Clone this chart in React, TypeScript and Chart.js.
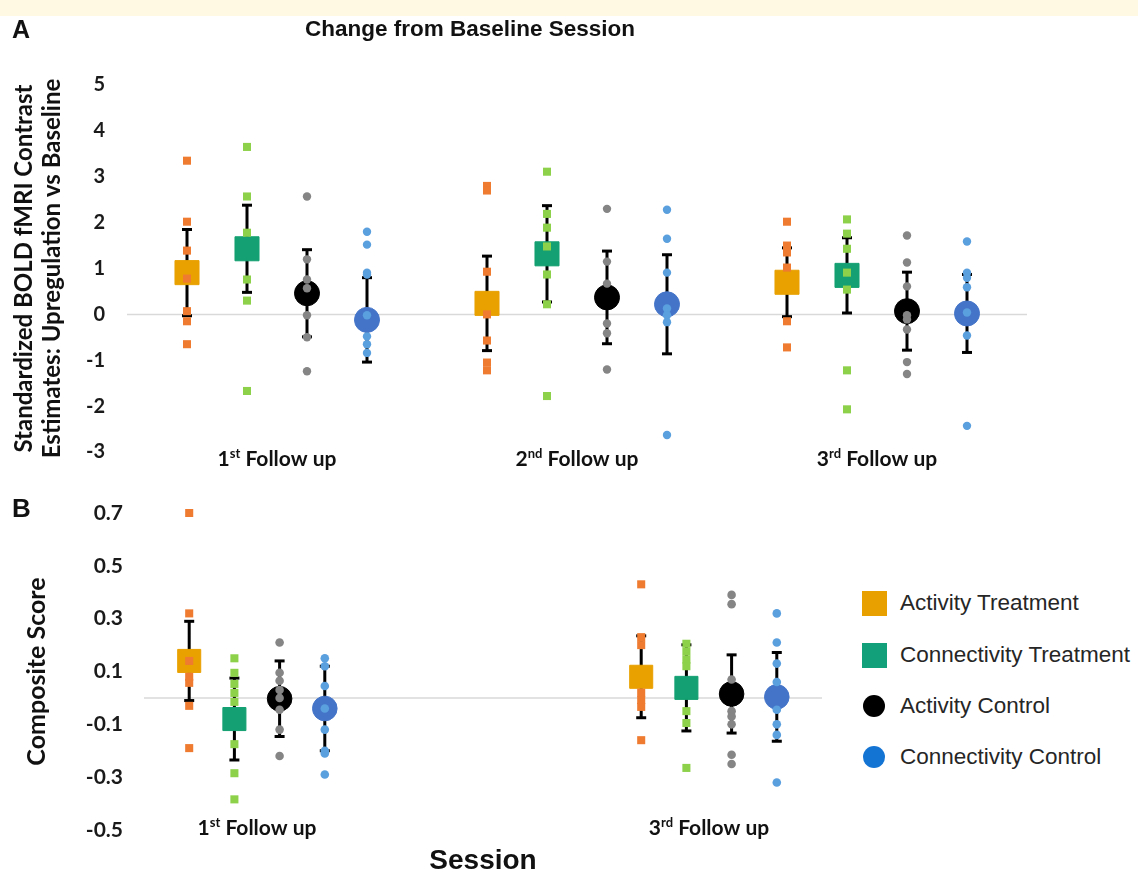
import React, { useEffect, useRef } from "react";
import { Chart, registerables } from "chart.js";

Chart.register(...registerables);

// ---------------- Shared ----------------
const seriesNames = [
  "Activity Treatment",
  "Connectivity Treatment",
  "Activity Control",
  "Connectivity Control",
];

// ---------------- Panel A data ----------------
const sessionsA = ["1st Follow up", "2nd Follow up", "3rd Follow up"];
const yTicksA = [-3, -2, -1, 0, 1, 2, 3, 4, 5];
const yTitleA = ["Standardized BOLD fMRI Contrast", "Estimates: Upregulation vs Baseline"];
const titleA = "Change from Baseline Session";

const actTreatA_mean = [0.91, 0.24, 0.7];
const actTreatA_err = [0.94, 1.03, 0.75];
const actTreatA_points = [
  [3.35, 2.02, 1.39, 0.78, 0.07, -0.15, -0.65],
  [2.8, 2.7, 0.93, 0.0, -0.57, -1.05, -1.22],
  [2.02, 1.5, 1.35, 1.02, -0.15, -0.72],
];

const conTreatA_mean = [1.43, 1.32, 0.85];
const conTreatA_err = [0.95, 1.05, 0.82];
const conTreatA_points = [
  [3.65, 2.57, 1.78, 0.76, 0.3, -1.67],
  [3.11, 2.19, 1.89, 1.48, 0.87, 0.22, -1.78],
  [2.07, 1.76, 1.43, 0.91, 0.54, -1.22, -2.07],
];

const actCtrlA_mean = [0.46, 0.37, 0.07];
const actCtrlA_err = [0.95, 1.01, 0.85];
const actCtrlA_points = [
  [2.57, 1.2, 0.76, 0.57, -0.02, -0.5, -1.24],
  [2.3, 1.15, 0.67, -0.2, -0.41, -1.2],
  [1.72, 1.13, 0.61, -0.02, -0.11, -0.33, -1.04, -1.3],
];

const conCtrlA_mean = [-0.12, 0.22, 0.02];
const conCtrlA_err = [0.92, 1.08, 0.85];
const conCtrlA_points = [
  [1.8, 1.52, 0.91, 0.87, -0.02, -0.48, -0.65, -0.84],
  [2.28, 1.65, 0.91, 0.13, -0.02, -0.17, -2.63],
  [1.59, 0.91, 0.8, 0.59, 0.04, -0.46, -2.43],
];

// ---------------- Panel B data ----------------
const sessionsB = ["1st Follow up", "3rd Follow up"];
const yTicksB = [-0.5, -0.3, -0.1, 0.1, 0.3, 0.5, 0.7];
const yTitleB = "Composite Score";
const xTitleB = "Session";

const actTreatB_mean = [0.14, 0.08];
const actTreatB_err = [0.15, 0.155];
const actTreatB_points = [
  [0.7, 0.32, 0.14, 0.08, 0.057, -0.03, -0.19],
  [0.43, 0.23, 0.2, 0.02, -0.008, -0.034, -0.16],
];

const conTreatB_mean = [-0.08, 0.038];
const conTreatB_err = [0.155, 0.163];
const conTreatB_points = [
  [0.15, 0.095, 0.053, 0.019, -0.015, -0.175, -0.285, -0.384],
  [0.205, 0.175, 0.145, 0.12, -0.05, -0.095, -0.265],
];

const actCtrlB_mean = [-0.003, 0.015];
const actCtrlB_err = [0.143, 0.148];
const actCtrlB_points = [
  [0.21, 0.095, 0.065, 0.03, 0.0, -0.045, -0.12, -0.22],
  [0.39, 0.355, 0.07, -0.05, -0.07, -0.1, -0.215, -0.25],
];

const conCtrlB_mean = [-0.04, 0.004];
const conCtrlB_err = [0.16, 0.168];
const conCtrlB_points = [
  [0.15, 0.12, 0.045, -0.04, -0.12, -0.2, -0.21, -0.29],
  [0.32, 0.21, 0.13, 0.06, -0.045, -0.1, -0.14, -0.32],
];

// ---------------- Styles ----------------
const seriesStyles = [
  { mean: "#E9A100", pt: "#EE7B30", legend: "#E8A000", shape: "rect" },
  { mean: "#14A072", pt: "#8DD14A", legend: "#12A07A", shape: "rect" },
  { mean: "#000000", pt: "#858585", legend: "#000000", shape: "circle" },
  { mean: "#4474C8", pt: "#5A9FDE", legend: "#1474D4", shape: "circle" },
];

type Series = { mean: number[]; err: number[]; points: number[][] };

const seriesA: Series[] = [
  { mean: actTreatA_mean, err: actTreatA_err, points: actTreatA_points },
  { mean: conTreatA_mean, err: conTreatA_err, points: conTreatA_points },
  { mean: actCtrlA_mean, err: actCtrlA_err, points: actCtrlA_points },
  { mean: conCtrlA_mean, err: conCtrlA_err, points: conCtrlA_points },
];
const seriesB: Series[] = [
  { mean: actTreatB_mean, err: actTreatB_err, points: actTreatB_points },
  { mean: conTreatB_mean, err: conTreatB_err, points: conTreatB_points },
  { mean: actCtrlB_mean, err: actCtrlB_err, points: actCtrlB_points },
  { mean: conCtrlB_mean, err: conCtrlB_err, points: conCtrlB_points },
];

type Sizes = { meanRect: number; meanCircle: number; ptRect: number; ptCircle: number; cap: number };

function buildDatasets(series: Series[], offsets: number[], sizes: Sizes) {
  const pointSets = series.map((s, i) => ({
    type: "scatter" as const,
    label: seriesNames[i] + " (individual)",
    data: s.points.flatMap((vals, g) => vals.map((v) => ({ x: g + offsets[i], y: v }))),
    pointStyle: seriesStyles[i].shape,
    pointRadius: seriesStyles[i].shape === "rect" ? sizes.ptRect : sizes.ptCircle,
    pointBackgroundColor: seriesStyles[i].pt,
    pointBorderColor: seriesStyles[i].pt,
    pointBorderWidth: 0,
    clip: false,
    order: 0,
  }));
  const meanSets = series.map((s, i) => ({
    type: "scatter" as const,
    label: seriesNames[i],
    data: s.mean.map((m, g) => ({ x: g + offsets[i], y: m })),
    pointStyle: seriesStyles[i].shape,
    pointRadius: seriesStyles[i].shape === "rect" ? sizes.meanRect : sizes.meanCircle,
    pointBackgroundColor: seriesStyles[i].mean,
    pointBorderColor: seriesStyles[i].mean,
    pointBorderWidth: 1,
    clip: false,
    order: 1,
  }));
  const errData: { x: number; y: number | null }[] = [];
  series.forEach((s, i) =>
    s.mean.forEach((m, g) => {
      const x = g + offsets[i];
      errData.push({ x, y: m - s.err[g] }, { x, y: m + s.err[g] }, { x, y: null });
    })
  );
  const errSet = {
    type: "scatter" as const,
    label: "SD",
    data: errData,
    showLine: true,
    spanGaps: false,
    borderColor: "#000",
    borderWidth: 3,
    pointStyle: "line",
    pointRadius: sizes.cap,
    pointBorderColor: "#000",
    pointBorderWidth: 3,
    clip: false,
    order: 2,
  };
  return [...pointSets, ...meanSets, errSet];
}

const zeroLinePlugin = {
  id: "zeroLine",
  beforeDatasetsDraw(chart: any) {
    const { ctx, chartArea } = chart;
    const y = chart.scales.y.getPixelForValue(0);
    ctx.save();
    ctx.strokeStyle = "#d9d9d9";
    ctx.lineWidth = 1.5;
    ctx.beginPath();
    ctx.moveTo(chartArea.left, y);
    ctx.lineTo(chartArea.right, y);
    ctx.stroke();
    ctx.restore();
  },
};

const groupLabelPlugin = {
  id: "groupLabels",
  afterDraw(chart: any, _args: any, opts: any) {
    const { ctx, chartArea } = chart;
    const xs = chart.scales.x;
    const size = opts.size;
    (opts.labels as string[]).forEach((lab, g) => {
      const m = /^(\d+)(st|nd|rd|th)(.*)$/.exec(lab);
      const parts = m ? [m[1], m[2], m[3]] : [lab, "", ""];
      const fMain = `bold ${size}px ${opts.family}`;
      const fSup = `bold ${Math.round(size * 0.62)}px ${opts.family}`;
      ctx.save();
      ctx.fillStyle = opts.color;
      ctx.textBaseline = "alphabetic";
      ctx.textAlign = "left";
      ctx.font = fMain;
      const w0 = ctx.measureText(parts[0]).width;
      const w2 = ctx.measureText(parts[2]).width;
      ctx.font = fSup;
      const w1 = ctx.measureText(parts[1]).width;
      const total = w0 + w1 + w2;
      const cx = xs.getPixelForValue(g);
      const base = chartArea.bottom + opts.offsetY + size * 0.35;
      let x = cx - total / 2;
      ctx.font = fMain;
      ctx.fillText(parts[0], x, base);
      x += w0;
      ctx.font = fSup;
      ctx.fillText(parts[1], x, base - size * 0.38);
      x += w1;
      ctx.font = fMain;
      ctx.fillText(parts[2], x, base);
      ctx.restore();
    });
  },
};

function configA(): any {
  return {
    type: "scatter",
    data: {
      datasets: buildDatasets(seriesA, [-0.3, -0.1, 0.1, 0.3], {
        meanRect: 17,
        meanCircle: 12.5,
        ptRect: 5.7,
        ptCircle: 4.2,
        cap: 5,
      }),
    },
    plugins: [zeroLinePlugin, groupLabelPlugin],
    options: {
      responsive: false,
      animation: false,
      layout: { padding: { top: 85, right: 111, bottom: 0, left: 0 } },
      plugins: {
        legend: { display: false },
        tooltip: { enabled: false },
        groupLabels: { labels: sessionsA, offsetY: 7, size: 21, family: "Lato", color: "#111" },
      },
      scales: {
        x: {
          type: "linear",
          min: -0.5,
          max: sessionsA.length - 0.5,
          ticks: { display: false },
          grid: { display: false, drawTicks: false },
          border: { display: false },
          afterFit: (s: any) => {
            s.height = 28;
          },
        },
        y: {
          type: "linear",
          min: yTicksA[0],
          max: yTicksA[yTicksA.length - 1],
          afterBuildTicks: (s: any) => {
            s.ticks = yTicksA.map((v) => ({ value: v }));
          },
          ticks: {
            padding: 22,
            color: "#1a1a1a",
            font: { family: "Lato", weight: "bold", size: 20 },
            callback: (v: any) => String(v),
          },
          grid: { display: false, drawTicks: false },
          border: { display: false },
          title: {
            display: true,
            text: yTitleA,
            color: "#111",
            font: { family: "Lato", weight: "bold", size: 24, lineHeight: 1.2 },
            padding: { top: 9.5, bottom: 0 },
          },
          afterFit: (s: any) => {
            s.width = 127;
            s.paddingTop = 0;
            s.paddingBottom = 0;
          },
        },
      },
    },
  };
}

function configB(): any {
  return {
    type: "scatter",
    data: {
      datasets: buildDatasets(seriesB, [-0.15, -0.05, 0.05, 0.15], {
        meanRect: 16.3,
        meanCircle: 12.3,
        ptRect: 5.7,
        ptCircle: 4.3,
        cap: 5,
      }),
    },
    plugins: [zeroLinePlugin, groupLabelPlugin],
    options: {
      responsive: false,
      animation: false,
      layout: { padding: { top: 33, right: 18, bottom: 0, left: 0 } },
      plugins: {
        legend: { display: false },
        tooltip: { enabled: false },
        groupLabels: { labels: sessionsB, offsetY: -2, size: 21, family: "Lato", color: "#111" },
      },
      scales: {
        x: {
          type: "linear",
          min: -0.25,
          max: sessionsB.length - 0.75,
          ticks: { display: false },
          grid: { display: false, drawTicks: false },
          border: { display: false },
          title: {
            display: true,
            text: xTitleB,
            color: "#111",
            font: { family: "Liberation Sans", weight: "bold", size: 28, lineHeight: 1 },
            padding: { top: 0, bottom: 0 },
          },
          afterFit: (s: any) => {
            s.height = 45;
          },
        },
        y: {
          type: "linear",
          min: yTicksB[0],
          max: yTicksB[yTicksB.length - 1],
          afterBuildTicks: (s: any) => {
            s.ticks = yTicksB.map((v) => ({ value: v }));
          },
          ticks: {
            padding: 21,
            color: "#1a1a1a",
            font: { family: "Lato", weight: "bold", size: 21 },
            callback: (v: any) => Number(v).toFixed(1),
          },
          grid: { display: false, drawTicks: false },
          border: { display: false },
          title: {
            display: true,
            text: yTitleB,
            color: "#111",
            font: { family: "Lato", weight: "bold", size: 25, lineHeight: 1.2 },
            padding: { top: 22, bottom: 0 },
          },
          afterFit: (s: any) => {
            s.width = 144;
            s.paddingTop = 0;
            s.paddingBottom = 0;
          },
        },
      },
    },
  };
}

const legendTops = [603, 655, 706, 757];

export default function App() {
  const refA = useRef<HTMLCanvasElement>(null);
  const refB = useRef<HTMLCanvasElement>(null);

  useEffect(() => {
    const a = new Chart(refA.current as HTMLCanvasElement, configA());
    const b = new Chart(refB.current as HTMLCanvasElement, configB());
    return () => {
      a.destroy();
      b.destroy();
    };
  }, []);

  return (
    <div
      style={{
        position: "absolute",
        left: 0,
        top: 0,
        width: 1138,
        height: 875,
        background: "#fff",
        overflow: "hidden",
        fontFamily: "'Liberation Sans', Arial, sans-serif",
      }}
    >
      <div style={{ position: "absolute", left: 0, top: 0, width: 1138, height: 16, background: "#FFF8E2" }} />
      <canvas
        ref={refA}
        width={1138}
        height={480}
        style={{ position: "absolute", left: 0, top: 0, width: 1138, height: 480 }}
      />
      <canvas
        ref={refB}
        width={840}
        height={395}
        style={{ position: "absolute", left: 0, top: 480, width: 840, height: 395 }}
      />
      <div
        style={{
          position: "absolute",
          left: 12,
          top: 17,
          fontSize: 25,
          lineHeight: "25px",
          fontWeight: "bold",
          color: "#111",
        }}
      >
        A
      </div>
      <div
        style={{
          position: "absolute",
          left: 12,
          top: 494.5,
          fontSize: 26,
          lineHeight: "26px",
          fontWeight: "bold",
          color: "#111",
        }}
      >
        B
      </div>
      <div
        style={{
          position: "absolute",
          left: 0,
          width: 940,
          top: 18,
          textAlign: "center",
          fontSize: 22.5,
          lineHeight: "22px",
          fontWeight: "bold",
          color: "#111",
        }}
      >
        {titleA}
      </div>
      {seriesNames.map((name, i) => (
        <div
          key={name}
          style={{ position: "absolute", left: 860, top: legendTops[i] - 15, height: 30, display: "flex", alignItems: "center" }}
        >
          <div style={{ width: 28, display: "flex", justifyContent: "center" }}>
            <div
              style={{
                width: seriesStyles[i].shape === "rect" ? 25 : 22,
                height: seriesStyles[i].shape === "rect" ? 25 : 22,
                borderRadius: seriesStyles[i].shape === "rect" ? 0 : "50%",
                background: seriesStyles[i].legend,
              }}
            />
          </div>
          <span style={{ marginLeft: 12, fontSize: 22.5, color: "#262626", whiteSpace: "nowrap" }}>{name}</span>
        </div>
      ))}
    </div>
  );
}
